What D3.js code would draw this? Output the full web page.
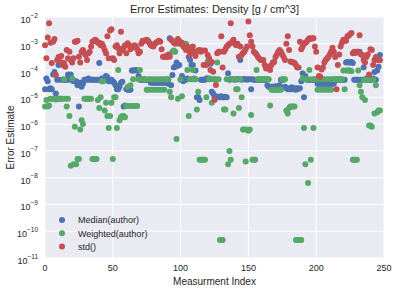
<!DOCTYPE html>
<html>
<head>
<meta charset="utf-8">
<script src="https://cdn.jsdelivr.net/npm/d3@7"></script>
<style>
  body { margin: 0; background: #fff; }
  svg { display: block; font-family: "Liberation Sans", Arial, sans-serif; }
</style>
</head>
<body>
<svg></svg>
<script>
// Data: one value per measurement index (0..247)
const median = [
  2e-5, 5e-5, 4e-5, 2e-5, 2.2e-5, 2e-5, 7.1e-5, 8.9e-5, 1.4e-5, 4.5e-5,
  1.6e-4, 4.5e-5, 2e-4, 4.5e-5, 4.5e-5, 4.5e-5, 4.5e-5, 7.1e-5, 4.5e-5, 7.1e-5,
  4.5e-5, 4e-5, 4e-5, 4e-5, 2.8e-5, 4.5e-6, 3.5e-5, 2.5e-5, 3.2e-5, 4.5e-5,
  4.5e-5, 4.5e-5, 5e-5, 4.5e-5, 4.5e-5, 4.5e-5, 4.5e-5, 4.5e-5, 4.5e-5, 4.5e-5,
  1.9e-4, 4.5e-5, 5e-5, 5e-5, 4.5e-5, 6.3e-5, 5.6e-5, 4e-5, 4e-5, 4.5e-5,
  4e-5, 3.5e-5, 2.8e-5, 2e-5, 2e-5, 2.5e-5, 3.5e-5, 3.8e-5, 4.5e-6, 5e-6,
  2e-5, 1.9e-5, 1.9e-5, 1.9e-5, 1e-4, 1e-4, 1e-4, 1.05e-4, 1e-4, 6.3e-5,
  4.5e-5, 4.5e-5, 4.5e-5, 4.5e-5, 4.5e-5, 4.5e-5, 4.5e-5, 4.5e-5, 3.5e-5, 3.5e-5,
  3.5e-5, 3.5e-5, 3.5e-5, 3.5e-5, 3.5e-5, 3.5e-5, 3.5e-5, 3.5e-5, 3.5e-5, 3.5e-5,
  3.5e-5, 3.2e-5, 1.6e-3, 2.8e-5, 6.8e-5, 1.3e-4, 1.4e-4, 2e-4, 1.5e-4, 1.6e-4,
  4.5e-5, 6.3e-5, 4e-5, 4.5e-5, 4.5e-5, 5e-5, 3.2e-4, 2.5e-4, 1.6e-4, 1.6e-4,
  5e-5, 1e-4, 1e-5, 1e-5, 7.9e-6, 4.5e-5, 4.5e-5, 4.5e-5, 4.5e-5, 5e-5,
  5e-5, 5e-5, 1.8e-4, 1.6e-5, 1.4e-5, 1e-5, 1.1e-5, 1e-5, 1.05e-5, 1e-5,
  1.1e-5, 1e-5, 1e-5, 1.05e-5, 1e-5, 7.9e-5, 4.5e-5, 4.7e-5, 4.7e-5, 4.7e-5,
  4.5e-5, 4.7e-5, 4.7e-5, 4.7e-5, 2.5e-4, 4.5e-5, 4.7e-5, 4.7e-5, 4.7e-5, 4.5e-5,
  4.7e-5, 4.7e-5, 2e-5, 4.7e-5, 4.5e-5, 4.5e-5, 4.5e-5, 4.5e-5, 4.5e-5, 4.5e-5,
  4.5e-5, 4.5e-5, 4.5e-5, 4.5e-5, 2.8e-5, 2.5e-5, 2.4e-5, 2.5e-5, 2.5e-5, 2.5e-5,
  2.6e-5, 2.5e-5, 2.5e-5, 2.8e-5, 4.5e-5, 4.5e-5, 4.5e-5, 2.5e-5, 2.2e-5, 2e-5,
  2.2e-5, 2e-5, 2.4e-5, 2e-5, 2.2e-5, 1.9e-5, 2.2e-5, 2.1e-5, 2.2e-5, 4e-5,
  7.9e-5, 1e-5, 6.3e-5, 4.5e-5, 4.5e-5, 4.5e-5, 4.5e-5, 4.5e-5, 4.5e-5, 4.5e-5,
  4.5e-5, 3.2e-5, 3.2e-5, 3.2e-5, 3.2e-5, 3.2e-5, 3.2e-5, 3.2e-5, 3.2e-5, 3.2e-5,
  3.2e-5, 3.2e-5, 3.2e-5, 3.2e-5, 4.5e-5, 4.5e-5, 4.5e-5, 4.5e-5, 4.5e-5, 4.5e-5,
  4.5e-5, 4.5e-5, 2e-4, 2.1e-4, 2e-4, 2e-4, 2.1e-4, 1.9e-4, 4.5e-5, 4.5e-5,
  4.5e-5, 4.5e-5, 5e-4, 4.5e-5, 4.5e-5, 1.3e-4, 4.5e-5, 5e-5, 4.5e-5, 4.5e-5,
  4.5e-5, 4.5e-5, 5e-5, 8.9e-5, 4.5e-5, 1e-4, 1.4e-4, 3.8e-4
];

const weighted = [
  4.5e-6, 7.9e-6, 4.5e-6, 5e-6, 8.9e-6, 8.9e-6, 8.9e-6, 8.9e-6, 8.3e-6, 8.9e-6,
  8.9e-6, 8.9e-6, 8.9e-6, 8.9e-6, 4.7e-5, 8.9e-6, 4.5e-6, 8.9e-6, 2e-6, 2.8e-8,
  5e-5, 3.2e-8, 7.9e-7, 3.2e-8, 5e-8, 5e-8, 6.3e-7, 1.4e-6, 1e-6, 8.9e-6,
  8.9e-6, 8.9e-6, 8.9e-6, 8.9e-6, 8.9e-6, 5e-8, 5e-8, 5e-8, 5e-8, 7.9e-6,
  4e-6, 1e-5, 4e-5, 4e-5, 3.2e-6, 6.3e-6, 2e-6, 7.1e-7, 2e-6, 6.3e-6,
  5e-8, 1e-5, 1e-5, 7.1e-7, 1.05e-4, 1.4e-6, 1.8e-6, 2e-6, 2e-6, 1.8e-6,
  4.7e-6, 2.5e-5, 4.7e-6, 2.8e-5, 4.7e-6, 4.7e-5, 4.7e-6, 4.7e-6, 4.7e-6, 4.7e-5,
  1.05e-4, 4.7e-5, 4.7e-5, 4.7e-5, 4.7e-5, 1.9e-5, 1.9e-5, 4.7e-5, 1.9e-5, 4.7e-5,
  1.9e-5, 4.7e-5, 1.9e-5, 4.7e-5, 1.9e-5, 4.7e-5, 1.9e-5, 4.7e-5, 1.9e-5, 4.7e-5,
  4.7e-5, 4.7e-5, 1.6e-5, 1e-5, 5e-4, 5.6e-4, 5e-4, 2.8e-7, 8.9e-6, 1e-3,
  4.7e-5, 1.1e-5, 1e-3, 9.5e-4, 1e-3, 1.05e-4, 2e-6, 4.7e-5, 4.7e-5, 1.05e-4,
  4.7e-5, 4.7e-5, 3.5e-6, 1.6e-5, 4.7e-8, 4.7e-8, 4.7e-8, 4.7e-8, 4.7e-8, 1e-5,
  2.2e-4, 4.7e-5, 4.7e-5, 6.3e-6, 4.7e-5, 4.7e-5, 4.7e-5, 2e-4, 4.7e-5, 4.7e-11,
  4.7e-11, 4.7e-11, 3.5e-6, 3.5e-6, 4.7e-5, 3.2e-8, 1e-7, 4.7e-8, 4.7e-5, 2.5e-6,
  4.7e-5, 2e-5, 2e-5, 4e-6, 4.7e-5, 1e-5, 6.3e-7, 6.3e-7, 4e-8, 6.3e-7,
  5.6e-7, 6.3e-7, 2.2e-6, 4.7e-8, 4.7e-8, 4.7e-8, 1.05e-4, 4.7e-5, 4.7e-5, 4.7e-5,
  4.7e-5, 4.7e-5, 4.7e-5, 4.7e-5, 4.7e-5, 4.7e-5, 5e-6, 1.9e-5, 1.9e-5, 1.9e-5,
  1.9e-5, 1.9e-5, 1.9e-5, 1.9e-5, 1.9e-5, 4.7e-5, 4.7e-5, 4.7e-5, 3.2e-6, 2.5e-6,
  4e-6, 4.5e-6, 4.5e-6, 4.5e-6, 4.5e-6, 4.7e-11, 4.7e-11, 4.7e-11, 4.7e-11, 4.7e-11,
  5e-5, 7.1e-7, 3.2e-8, 4.7e-5, 6.3e-9, 1.05e-4, 4.7e-8, 4.7e-5, 7.1e-7, 4.7e-5,
  4.7e-5, 1.9e-5, 4.7e-5, 1.9e-5, 4.7e-5, 1.9e-5, 4.7e-5, 1.9e-5, 4.7e-5, 1.9e-5,
  4.7e-5, 1.9e-5, 4.7e-5, 4.7e-5, 4.7e-5, 4.7e-5, 4.7e-5, 4.7e-5, 4.7e-5, 4.7e-5,
  1e-4, 2e-5, 1e-4, 1e-4, 1e-4, 1e-4, 9.5e-5, 4.7e-8, 4.7e-8, 4.7e-8,
  4.7e-8, 1e-4, 2.8e-5, 1.6e-5, 1e-5, 4.5e-5, 7.9e-6, 4.5e-5, 4.5e-5, 8.9e-7,
  8.9e-7, 7.9e-7, 4.5e-5, 2.5e-6, 2.8e-5, 2.8e-6, 3.2e-6, 3.2e-6
];

const stdev = [
  8.9e-4, 2.9e-4, 1.7e-3, 5.8e-3, 1.1e-3, 1.9e-4, 1.2e-3, 1.5e-3, 6.8e-5, 2.5e-4,
  3.2e-4, 2.1e-4, 3.5e-4, 1.6e-4, 1.9e-4, 1.4e-4, 5.9e-4, 2.9e-4, 5e-4, 2.5e-4,
  2e-4, 2.9e-4, 1.2e-3, 1.2e-3, 1.3e-3, 3.3e-4, 2e-4, 5e-4, 5.9e-4, 4.4e-4,
  3.8e-4, 2.5e-4, 4.4e-4, 5e-4, 7.9e-4, 1.2e-3, 1.3e-3, 1.4e-3, 1.3e-3, 1.1e-3,
  1.1e-3, 8.9e-4, 1e-3, 7.9e-4, 5.9e-4, 4.4e-4, 1.9e-3, 2.9e-4, 3.1e-3, 3.5e-3,
  2.9e-4, 2.5e-4, 7.9e-4, 8.9e-4, 6.8e-4, 4.4e-4, 2.8e-3, 5.9e-4, 7.1e-4, 8.9e-4,
  4.4e-4, 1.05e-3, 8.9e-4, 6.3e-4, 7.9e-4, 7.6e-4, 8.9e-4, 7.9e-4, 6.3e-4, 4.4e-4,
  5e-4, 1e-3, 1.3e-3, 1.3e-3, 1.3e-3, 1.4e-3, 1.3e-3, 1.1e-3, 8.9e-4, 8.3e-4,
  7.9e-4, 1e-3, 1.1e-3, 1.2e-3, 1.3e-3, 1.2e-3, 6.3e-4, 3.3e-4, 3.2e-4, 3.5e-4,
  3.2e-4, 4e-4, 3.3e-4, 1.4e-3, 1.3e-3, 1.1e-3, 1e-3, 1.1e-3, 1.5e-3, 1.3e-3,
  1e-3, 1.1e-3, 7.9e-4, 7.1e-4, 5.9e-4, 7.9e-4, 5.6e-4, 4e-4, 6.3e-4, 7.9e-4,
  5e-4, 3.5e-4, 5e-4, 5.6e-4, 5.9e-4, 5e-4, 5.6e-4, 1.6e-4, 5.6e-4, 1.6e-4,
  3.8e-4, 2.9e-4, 1.05e-4, 2.1e-4, 9.1e-5, 7.9e-6, 2.9e-5, 4.4e-4, 5e-4, 5e-4,
  1.9e-3, 1.3e-4, 5e-4, 6.3e-4, 7.9e-4, 8.9e-4, 1e-3, 5.8e-3, 1.2e-3, 1.4e-3,
  1e-3, 8.9e-4, 1e-3, 3.3e-4, 7.9e-4, 3.8e-4, 4.5e-4, 5e-4, 6.3e-4, 7.9e-4,
  6.8e-3, 2.1e-3, 1.2e-3, 7.9e-4, 5e-4, 4.5e-4, 4e-4, 3.2e-4, 2.8e-4, 2.5e-4,
  2.5e-4, 2.5e-4, 1.6e-4, 1.2e-4, 1.4e-4, 1.3e-4, 1.05e-4, 1.6e-4, 2e-4, 2.1e-4,
  3.2e-4, 4e-4, 5e-4, 5.9e-4, 5e-4, 4e-4, 3.2e-4, 2.5e-4, 1e-3, 1.9e-3,
  5.9e-4, 2.2e-4, 2.1e-4, 2e-4, 1.9e-4, 1.6e-4, 1.3e-4, 1.3e-4, 1.2e-3, 6.3e-4,
  7.9e-4, 1e-3, 1.1e-3, 1.2e-3, 1.4e-3, 1.6e-3, 1.5e-3, 1.6e-3, 1.6e-3, 7.9e-4,
  5e-4, 1.3e-4, 6.3e-5, 5.9e-5, 1.1e-4, 1.3e-4, 2e-4, 2.5e-4, 2.8e-4, 3.2e-4,
  4e-4, 5e-4, 7.1e-4, 5e-4, 3.2e-4, 2e-5, 1.6e-4, 4e-4, 7.9e-4, 1.1e-3,
  1.4e-3, 1.3e-3, 1.3e-3, 1.9e-3, 2e-3, 2.3e-3, 2.5e-3, 4.4e-4, 5e-4, 4.5e-4,
  5e-4, 5e-4, 2.1e-3, 4e-4, 3.8e-4, 2.5e-4, 2e-4, 3.2e-4, 4e-4, 7.1e-5,
  6.3e-4, 5.9e-4, 1.6e-4, 2.5e-4, 3.2e-4, 2.5e-4, 2.5e-4, 2.4e-4
];

const seriesNames = ["Median(author)", "Weighted(author)", "std()"];
const seriesColors = ["#4C72B0", "#55A868", "#C44E52"];
const xTicks = [0, 50, 100, 150, 200, 250];
const yTickExponents = [-11, -10, -9, -8, -7, -6, -5, -4, -3, -2];

// Set up the SVG container
const width = 398, height = 292;
const margin = { top: 17, right: 14, bottom: 34, left: 45 };
const svg = d3.select("svg").attr("width", width).attr("height", height);

const x = d3.scaleLinear().domain([0, 250]).range([margin.left, width - margin.right]);
const y = d3.scaleLog().domain([1e-11, 1e-2]).range([height - margin.bottom, margin.top]);

// Plot background (seaborn darkgrid)
svg.append("rect")
    .attr("x", margin.left)
    .attr("y", margin.top)
    .attr("width", width - margin.left - margin.right)
    .attr("height", height - margin.top - margin.bottom)
    .attr("fill", "#EAEAF2");

// Grid lines
svg.append("g")
    .selectAll("line")
    .data(xTicks)
    .enter().append("line")
    .attr("x1", d => x(d)).attr("x2", d => x(d))
    .attr("y1", margin.top).attr("y2", height - margin.bottom)
    .attr("stroke", "#fff").attr("stroke-width", 1);

svg.append("g")
    .selectAll("line")
    .data(yTickExponents)
    .enter().append("line")
    .attr("x1", margin.left).attr("x2", width - margin.right)
    .attr("y1", d => y(Math.pow(10, d))).attr("y2", d => y(Math.pow(10, d)))
    .attr("stroke", "#fff").attr("stroke-width", 1);

// Points: median, weighted, std (std drawn last, on top)
const allSeries = [median, weighted, stdev];
allSeries.forEach((values, s) => {
    svg.append("g")
        .selectAll("circle")
        .data(values)
        .enter().append("circle")
        .attr("cx", (d, i) => x(i))
        .attr("cy", d => y(d))
        .attr("r", 3)
        .attr("fill", seriesColors[s]);
});

// X tick labels
svg.append("g")
    .selectAll("text")
    .data(xTicks)
    .enter().append("text")
    .attr("x", d => x(d))
    .attr("y", height - margin.bottom + 13)
    .attr("text-anchor", "middle")
    .attr("font-size", 9)
    .attr("fill", "#262626")
    .text(d => d);

// Y tick labels: 10 with superscript exponent
const yLabels = svg.append("g")
    .selectAll("text")
    .data(yTickExponents)
    .enter().append("text")
    .attr("x", margin.left - 7)
    .attr("y", d => y(Math.pow(10, d)) + 6)
    .attr("text-anchor", "end")
    .attr("font-size", 9)
    .attr("fill", "#262626");
yLabels.append("tspan").text("10");
yLabels.append("tspan")
    .attr("dy", -5.5)
    .attr("font-size", 6.5)
    .text(d => "\u2212" + Math.abs(d));

// Title and axis labels
svg.append("text")
    .attr("x", (margin.left + width - margin.right) / 2)
    .attr("y", 13)
    .attr("text-anchor", "middle")
    .attr("font-size", 11)
    .attr("fill", "#262626")
    .text("Error Estimates: Density [g / cm^3]");

svg.append("text")
    .attr("x", (margin.left + width - margin.right) / 2)
    .attr("y", 285)
    .attr("text-anchor", "middle")
    .attr("font-size", 10)
    .attr("fill", "#262626")
    .text("Measurment Index");

svg.append("text")
    .attr("transform", `translate(13.5, ${(margin.top + height - margin.bottom) / 2}) rotate(-90)`)
    .attr("text-anchor", "middle")
    .attr("font-size", 10)
    .attr("fill", "#262626")
    .text("Error Estimate");

// Legend
const legend = svg.append("g")
    .selectAll("g")
    .data(seriesNames)
    .enter().append("g")
    .attr("transform", (d, i) => `translate(62, ${220 + i * 13.3})`);

legend.append("circle")
    .attr("r", 3)
    .attr("fill", (d, i) => seriesColors[i]);

legend.append("text")
    .attr("x", 16)
    .attr("y", 3.2)
    .attr("font-size", 9)
    .attr("fill", "#262626")
    .text(d => d);
</script>
</body>
</html>
